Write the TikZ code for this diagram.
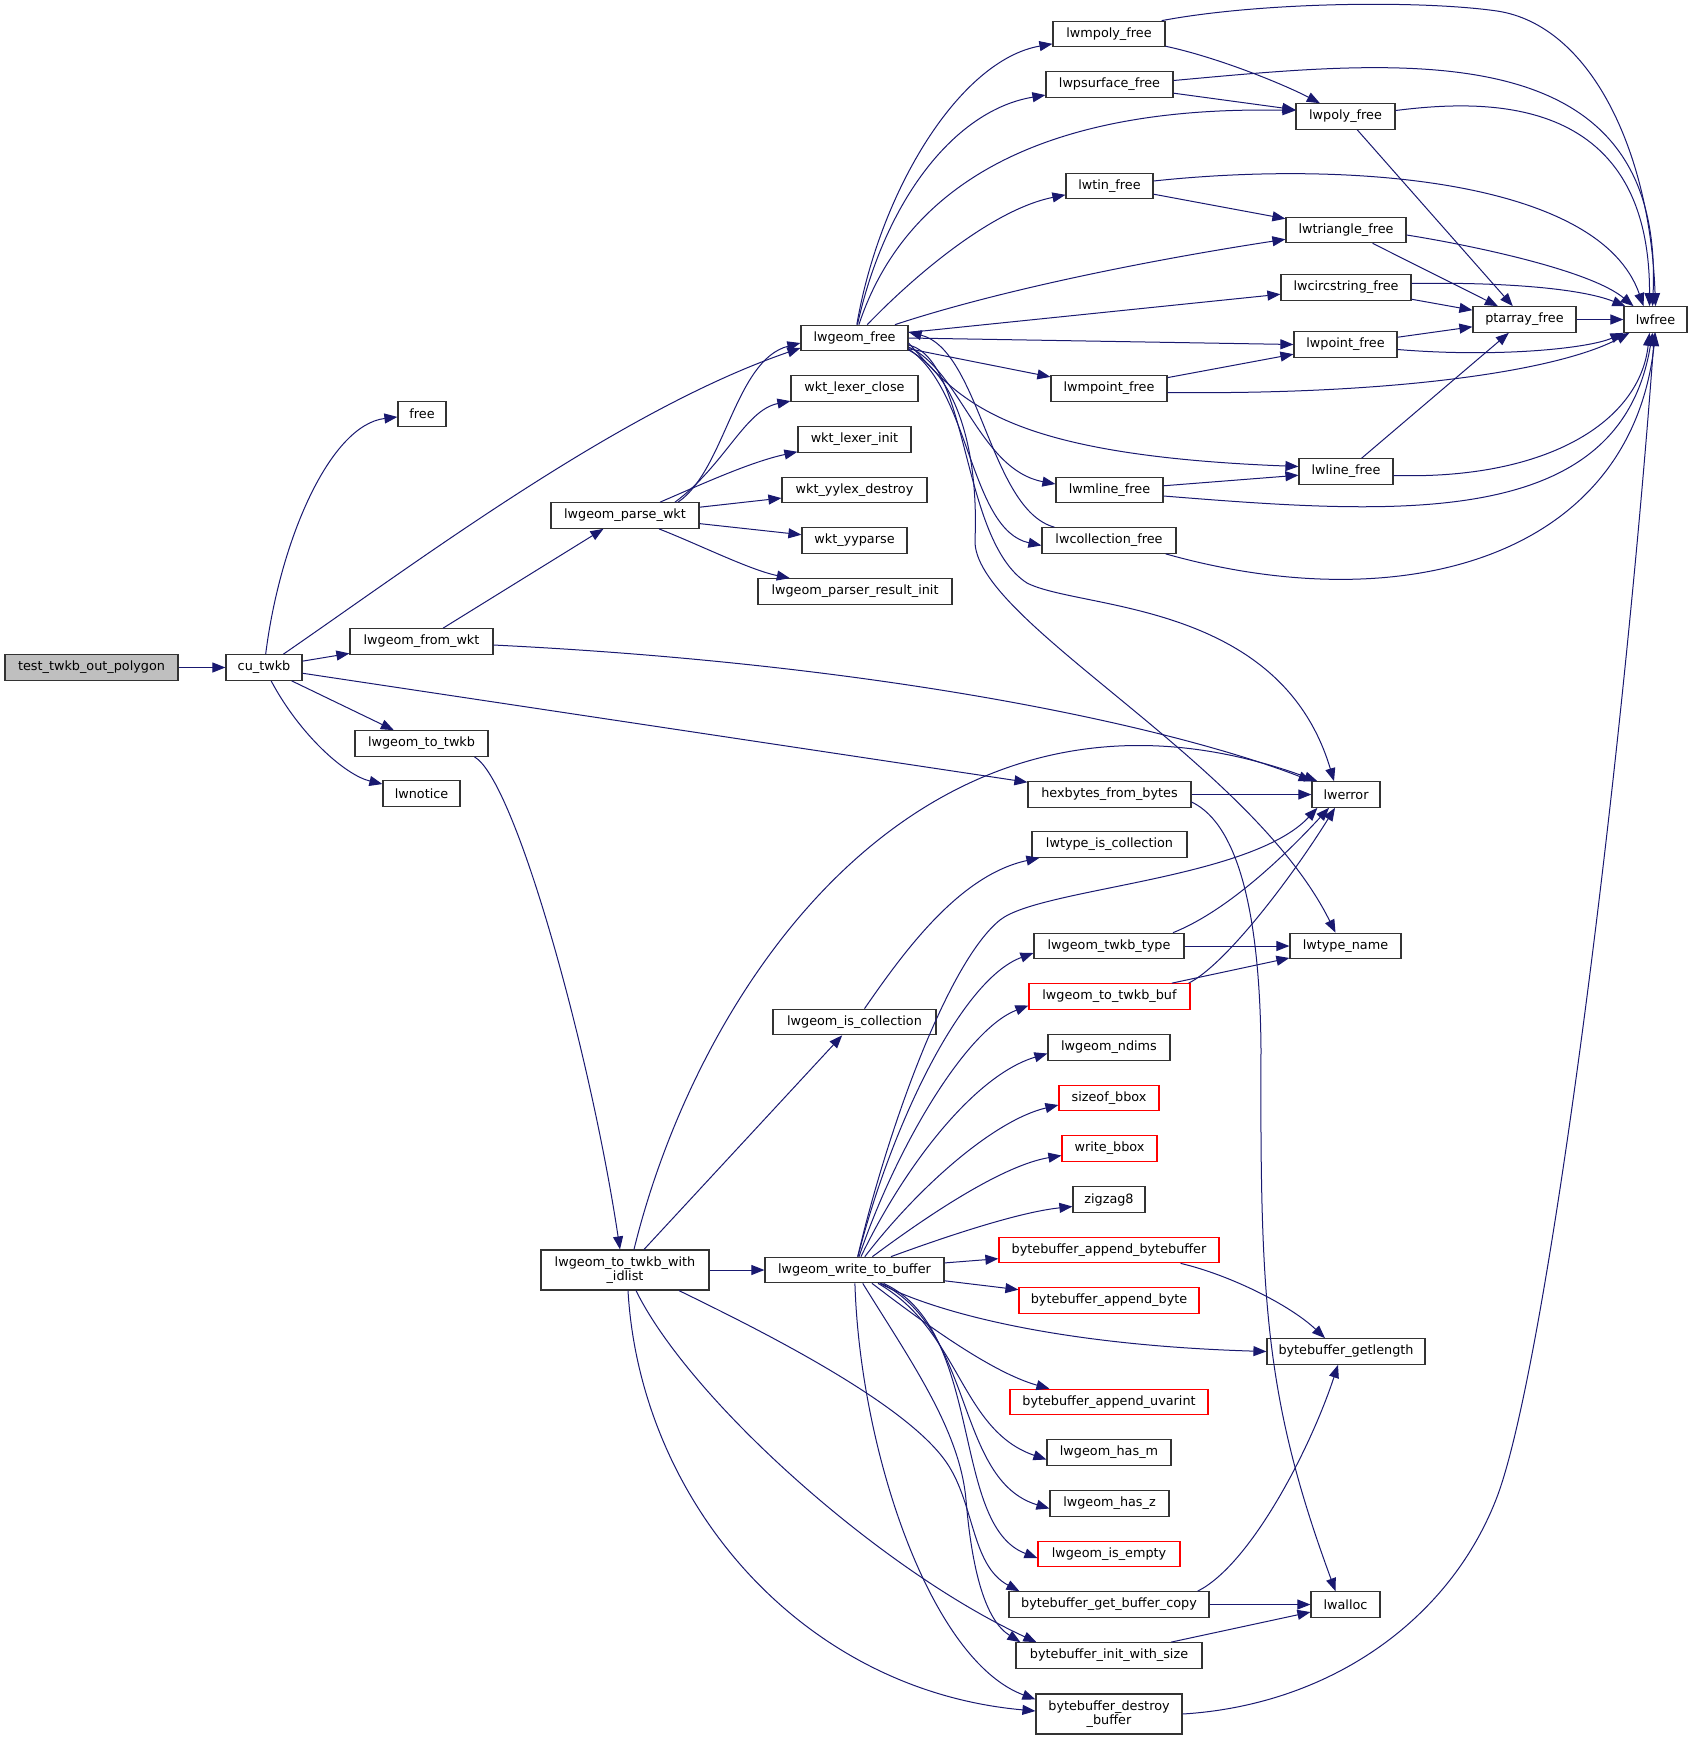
\documentclass[tikz,border=0pt]{standalone}
\usepackage{fontspec}
\setmainfont{DejaVu Sans}
\usetikzlibrary{arrows.meta}
\definecolor{edgec}{HTML}{191970}
\definecolor{boxc}{HTML}{333333}
\definecolor{redc}{HTML}{FF0000}
\definecolor{grayfill}{HTML}{BFBFBF}
\begin{document}
\begin{tikzpicture}[x=1pt,y=-1pt,
  fn/.style={draw=boxc, line width=1.2pt, fill=white, inner sep=0pt, minimum height=25.5pt, font=\fontsize{12.8}{14.5}\selectfont, align=center},
  rn/.style={fn, draw=redc},
  e/.style={draw=edgec, line width=1pt, -{Triangle[length=13pt,width=10pt]}}]
\useasboundingbox (0,0) rectangle (1692,1740);
\fill[white] (0,0) rectangle (1692,1740);
% nodes
\node[fn,fill=grayfill,minimum width=173pt] (test) at (91.5,667.5) {test\_twkb\_out\_polygon};
\node[fn,minimum width=76pt] (cu) at (264,667.5) {cu\_twkb};
\node[fn,minimum width=143pt] (fromwkt) at (421.5,641.5) {lwgeom\_from\_wkt};
\node[fn,minimum width=133pt] (totwkb) at (421.5,743.5) {lwgeom\_to\_twkb};
\node[fn,minimum width=77pt] (lwnotice) at (421.5,793.5) {lwnotice};
\node[fn,minimum width=48pt] (free) at (422,414) {free};
\node[fn,minimum width=148pt] (parsewkt) at (625,515.5) {lwgeom\_parse\_wkt};
\node[fn,minimum width=107pt] (lwgeomfree) at (854.5,338) {lwgeom\_free};
\node[fn,minimum width=127pt] (lexclose) at (854.5,388.5) {wkt\_lexer\_close};
\node[fn,minimum width=113pt] (lexinit) at (854.5,439.5) {wkt\_lexer\_init};
\node[fn,minimum width=145pt] (yylexdestroy) at (854.5,490) {wkt\_yylex\_destroy};
\node[fn,minimum width=105pt] (yyparse) at (854.5,540.5) {wkt\_yyparse};
\node[fn,minimum width=194pt] (parserinit) at (855,591.5) {lwgeom\_parser\_result\_init};
\node[fn,minimum width=112pt] (lwmpoly) at (1109,34) {lwmpoly\_free};
\node[fn,minimum width=127pt] (lwpsurface) at (1109.5,84.5) {lwpsurface\_free};
\node[fn,minimum width=99pt] (lwpoly) at (1345.5,116.5) {lwpoly\_free};
\node[fn,minimum width=87pt] (lwtin) at (1109.5,186) {lwtin\_free};
\node[fn,minimum width=120pt] (lwtriangle) at (1346,230) {lwtriangle\_free};
\node[fn,minimum width=130pt] (lwcircstring) at (1346,287.5) {lwcircstring\_free};
\node[fn,minimum width=103pt] (ptarray) at (1524.5,319.5) {ptarray\_free};
\node[fn,minimum width=63pt] (lwfree) at (1655.5,319.5) {lwfree};
\node[fn,minimum width=103pt] (lwpoint) at (1345.5,344.5) {lwpoint\_free};
\node[fn,minimum width=116pt] (lwmpoint) at (1109,388.5) {lwmpoint\_free};
\node[fn,minimum width=94pt] (lwline) at (1346,471.5) {lwline\_free};
\node[fn,minimum width=107pt] (lwmline) at (1109.5,490) {lwmline\_free};
\node[fn,minimum width=134pt] (lwcollection) at (1109,540.5) {lwcollection\_free};
\node[fn,minimum width=68pt] (lwerror) at (1346,794.5) {lwerror};
\node[fn,minimum width=163pt] (hexbytes) at (1109.5,794.5) {hexbytes\_from\_bytes};
\node[fn,minimum width=155pt] (lwtypeiscoll) at (1109.5,844.5) {lwtype\_is\_collection};
\node[fn,minimum width=150pt] (twkbtype) at (1109,946) {lwgeom\_twkb\_type};
\node[fn,minimum width=111pt] (lwtypename) at (1345.5,946) {lwtype\_name};
\node[rn,minimum width=161pt] (totwkbbuf) at (1109.5,996.5) {lwgeom\_to\_twkb\_buf};
\node[fn,minimum width=122pt] (ndims) at (1109,1047.5) {lwgeom\_ndims};
\node[rn,minimum width=100pt] (sizeofbbox) at (1109,1098) {sizeof\_bbox};
\node[rn,minimum width=95pt] (writebbox) at (1109.5,1148.5) {write\_bbox};
\node[fn,minimum width=72pt] (zigzag) at (1109,1199.5) {zigzag8};
\node[rn,minimum width=220pt] (appendbb) at (1109,1250) {bytebuffer\_append\_bytebuffer};
\node[rn,minimum width=180pt] (appendbyte) at (1109,1300.5) {bytebuffer\_append\_byte};
\node[fn,minimum width=158pt] (getlength) at (1346,1351.5) {bytebuffer\_getlength};
\node[rn,minimum width=198pt] (appenduvarint) at (1109,1402) {bytebuffer\_append\_uvarint};
\node[fn,minimum width=124pt] (hasm) at (1109,1452.5) {lwgeom\_has\_m};
\node[fn,minimum width=119pt] (hasz) at (1109.5,1503.5) {lwgeom\_has\_z};
\node[rn,minimum width=142pt] (isempty) at (1109,1554) {lwgeom\_is\_empty};
\node[fn,minimum width=200pt] (getbufcopy) at (1109,1604.5) {bytebuffer\_get\_buffer\_copy};
\node[fn,minimum width=69pt] (lwalloc) at (1345.5,1604.5) {lwalloc};
\node[fn,minimum width=186pt] (initsize) at (1109,1655.5) {bytebuffer\_init\_with\_size};
\node[fn,minimum width=146pt,minimum height=40pt] (destroybuf) at (1109,1714) {bytebuffer\_destroy\\\_buffer};
\node[fn,minimum width=163pt] (iscoll) at (854.5,1022) {lwgeom\_is\_collection};
\node[fn,minimum width=168pt,minimum height=40pt] (idlist) at (625,1270) {lwgeom\_to\_twkb\_with\\\_idlist};
\node[fn,minimum width=179pt] (writebuf) at (854.5,1270) {lwgeom\_write\_to\_buffer};
% edges: left part
\draw[e] (test) -- (cu);
\draw[e] (cu) .. controls (280,540) and (330,425) .. (free);
\draw[e] (cu) .. controls (420,560) and (620,410) .. ([yshift=-10pt]lwgeomfree.west);
\draw[e] (cu) -- (fromwkt);
\draw[e] (cu) -- (hexbytes);
\draw[e] (cu) -- (totwkb);
\draw[e] (cu) .. controls (300,735) and (345,775) .. (lwnotice);
\draw[e] (fromwkt) -- (parsewkt);
\draw[e] (fromwkt) .. controls (900,665) and (1180,730) .. (lwerror);
\draw[e] ([xshift=53pt]parsewkt.north) .. controls (725,470) and (735,360) .. ([yshift=-5pt]lwgeomfree.west);
\draw[e] ([xshift=50pt]parsewkt.north) .. controls (725,465) and (745,410) .. (lexclose);
\draw[e] ([xshift=35pt]parsewkt.north) .. controls (700,485) and (750,462) .. (lexinit);
\draw[e] (parsewkt) -- (yylexdestroy);
\draw[e] (parsewkt) -- (yyparse);
\draw[e] (parsewkt) .. controls (700,545) and (750,570) .. (parserinit);
\draw[e] ([xshift=53pt]totwkb.south) .. controls (515,780) and (590,1050) .. ([xshift=-5pt]idlist.north);
% idlist
\draw[e] ([xshift=9pt]idlist.north) .. controls (700,980) and (930,640) .. ([xshift=6pt]lwerror.north west);
\draw[e] (idlist) -- (iscoll);
\draw[e] (idlist) -- (writebuf);
\draw[e] ([xshift=3pt]idlist.south) .. controls (640,1500) and (800,1690) .. ([yshift=3pt]destroybuf.west);
\draw[e] ([xshift=11pt]idlist.south) .. controls (690,1400) and (880,1570) .. ([xshift=21pt]initsize.north west);
\draw[e] ([xshift=54pt]idlist.south) .. controls (760,1330) and (900,1400) .. (944,1459) .. controls (975,1500) and (970,1565) .. ([xshift=11pt]getbufcopy.north west);
% writebuf
\draw[e] (writebuf) .. controls (890,1120) and (950,960) .. (1000,920) .. controls (1040,888) and (1250,880) .. ([xshift=6pt]lwerror.south west);
\draw[e] (writebuf) .. controls (890,1130) and (960,980) .. ([yshift=-7pt]twkbtype.west);
\draw[e] (writebuf) .. controls (895,1150) and (965,1030) .. ([yshift=-9pt]totwkbbuf.west);
\draw[e] (writebuf) .. controls (905,1165) and (975,1075) .. ([yshift=-6pt]ndims.west);
\draw[e] (writebuf) .. controls (920,1185) and (995,1120) .. ([yshift=-7pt]sizeofbbox.west);
\draw[e] (writebuf) .. controls (935,1210) and (1005,1165) .. ([yshift=-7pt]writebbox.west);
\draw[e] (writebuf) .. controls (950,1235) and (1020,1212) .. ([yshift=-7pt]zigzag.west);
\draw[e] (writebuf) -- (appendbb);
\draw[e] (writebuf) -- (appendbyte);
\draw[e] (writebuf) .. controls (930,1310) and (1050,1345) .. (getlength.west);
\draw[e] (writebuf) .. controls (920,1320) and (990,1372) .. ([xshift=40pt]appenduvarint.north west);
\draw[e] (writebuf) .. controls (960,1330) and (960,1430) .. ([yshift=-7pt]hasm.west);
\draw[e] (writebuf) .. controls (975,1330) and (955,1480) .. ([yshift=-5pt]hasz.west);
\draw[e] (writebuf) .. controls (985,1330) and (950,1525) .. ([yshift=-4pt]isempty.west);
\draw[e] (writebuf) .. controls (910,1360) and (960,1430) .. (966,1500) .. controls (972,1570) and (985,1620) .. ([xshift=5pt]initsize.north west);
\draw[e] (writebuf) .. controls (860,1450) and (930,1660) .. ([yshift=-6pt]destroybuf.north west);
% lower right
\draw[e] ([xshift=64pt]twkbtype.north) .. controls (1230,910) and (1290,850) .. ([xshift=-17pt]lwerror.south);
\draw[e] (twkbtype) -- (lwtypename);
\draw[e] (totwkbbuf) -- (lwtypename);
\draw[e] ([xshift=-2pt]totwkbbuf.north east) .. controls (1225,965) and (1290,880) .. ([xshift=-11pt]lwerror.south);
\draw[e] (hexbytes) -- (lwerror);
\draw[e] ([yshift=-7.5pt]hexbytes.east) .. controls (1240,825) and (1260,920) .. (1261,1050) .. controls (1260,1300) and (1265,1400) .. ([xshift=-10pt]lwalloc.north);
\draw[e] ([xshift=10pt]iscoll.north) .. controls (905,950) and (960,875) .. ([xshift=8pt]lwtypeiscoll.south west);
\draw[e] ([xshift=-39pt]appendbb.south east) .. controls (1230,1275) and (1290,1305) .. ([xshift=-21pt]getlength.north);
\draw[e] ([xshift=-12pt]getbufcopy.north east) .. controls (1250,1565) and (1310,1450) .. ([xshift=-8pt]getlength.south);
\draw[e] (getbufcopy) -- (lwalloc);
\draw[e] (initsize) -- (lwalloc);
\draw[e] (destroybuf.east) .. controls (1330,1705) and (1450,1620) .. (1497,1497) .. controls (1545,1370) and (1620,800) .. ([xshift=-1pt]lwfree.south);
% lwgeom_free fan
\draw[e] ([yshift=-7pt]lwgeomfree.east) .. controls (970,360) and (960,540) .. (1027,583) .. controls (1080,610) and (1280,600) .. ([xshift=-12pt]lwerror.north);
\draw[e] ([yshift=-12pt]lwgeomfree.east) .. controls (965,380) and (978,470) .. (975,540) .. controls (972,620) and (1250,760) .. ([xshift=-10pt]lwtypename.north);
\draw[e] ([yshift=-11pt]lwgeomfree.east) .. controls (970,390) and (970,530) .. ([yshift=-5pt]lwcollection.west);
\draw[e] ([xshift=13pt]lwcollection.north west) .. controls (990,510) and (980,350) .. ([yshift=6pt]lwgeomfree.east);
\draw[e] ([yshift=-9pt]lwgeomfree.east) .. controls (960,370) and (980,470) .. ([yshift=6pt]lwmline.west);
\draw[e] ([yshift=-5pt]lwgeomfree.east) .. controls (960,400) and (1000,455) .. ([yshift=5pt]lwline.west);
\draw[e] (lwgeomfree) -- (lwmpoint);
\draw[e] (lwgeomfree.east) -- (lwpoint.west);
\draw[e] (lwgeomfree) -- (lwcircstring);
\draw[e] (lwgeomfree) .. controls (1000,290) and (1150,260) .. (lwtriangle);
\draw[e] (lwgeomfree) .. controls (910,280) and (990,210) .. (lwtin);
\draw[e] (lwgeomfree) .. controls (900,200) and (1020,105) .. ([yshift=6pt]lwpoly.west);
\draw[e] (lwgeomfree) .. controls (885,200) and (955,110) .. (lwpsurface);
\draw[e] (lwgeomfree) .. controls (880,190) and (960,60) .. (lwmpoly);
% upper right
\draw[e] ([xshift=-4pt]lwmpoly.north east) .. controls (1260,2) and (1420,0) .. (1497,11) .. controls (1590,25) and (1650,150) .. (lwfree.north);
\draw[e] (lwmpoly) .. controls (1220,58) and (1285,85) .. (lwpoly);
\draw[e] ([yshift=4pt]lwpsurface.east) .. controls (1400,60) and (1665,30) .. ([xshift=-3pt]lwfree.north);
\draw[e] (lwpsurface) -- (lwpoly);
\draw[e] ([yshift=6pt]lwpoly.east) .. controls (1480,100) and (1650,90) .. ([xshift=-6pt]lwfree.north);
\draw[e] (lwpoly) -- (ptarray);
\draw[e] ([yshift=5pt]lwtin.east) .. controls (1350,160) and (1600,180) .. ([xshift=-12pt]lwfree.north);
\draw[e] (lwtin) -- (lwtriangle);
\draw[e] ([yshift=-5pt]lwtriangle.east) .. controls (1470,245) and (1590,270) .. ([xshift=-22pt]lwfree.north);
\draw[e] (lwtriangle) -- (ptarray);
\draw[e] ([yshift=4pt]lwcircstring.east) .. controls (1500,282) and (1580,288) .. ([xshift=2pt]lwfree.north west);
\draw[e] (lwcircstring) -- (ptarray);
\draw[e] (ptarray) -- (lwfree);
\draw[e] ([yshift=-5pt]lwpoint.east) .. controls (1500,358) and (1590,348) .. (lwfree.south west);
\draw[e] (lwpoint) -- (ptarray);
\draw[e] ([yshift=-4pt]lwmpoint.east) .. controls (1400,395) and (1560,370) .. ([xshift=6pt]lwfree.south west);
\draw[e] (lwmpoint) -- (lwpoint);
\draw[e] ([yshift=-4pt]lwline.east) .. controls (1550,480) and (1640,420) .. ([xshift=-6pt]lwfree.south);
\draw[e] (lwline) -- (ptarray);
\draw[e] ([yshift=-6pt]lwmline.east) .. controls (1400,515) and (1620,530) .. ([xshift=-3pt]lwfree.south);
\draw[e] (lwmline) -- (lwline);
\draw[e] ([xshift=-11pt]lwcollection.south east) .. controls (1400,620) and (1630,560) .. (lwfree.south);
\end{tikzpicture}
\end{document}
